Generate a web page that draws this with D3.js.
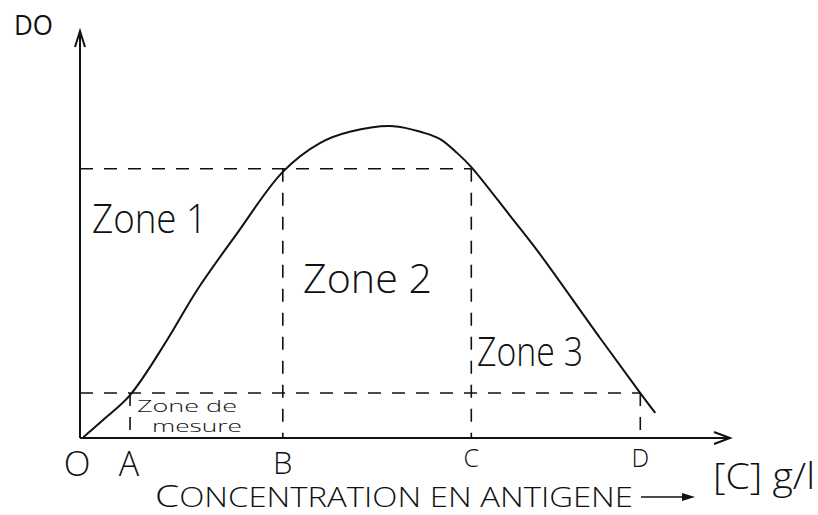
<!DOCTYPE html>
<html>
<head>
<meta charset="utf-8">
<style>
    body { margin: 0; background: #fff; }
    svg text { font-family: 'Open Sans', 'DejaVu Sans', sans-serif; font-weight: 300; fill: #111; }
</style>
</head>
<body>
<svg width="818" height="515"></svg>

<script src="https://d3js.org/d3.v7.min.js"></script>
<script>

    // concentration (arbitrary units) and optical density (DO)
    let curveX = [0.05, 0.35, 0.77, 1.34, 1.80, 2.42, 3.12, 3.69, 4.15, 4.82, 5.28, 5.54, 5.80, 6.02, 6.62, 7.03, 8.00, 8.62, 8.85]
    let curveY = [0.002, 0.044, 0.106, 0.242, 0.365, 0.506, 0.657, 0.728, 0.756, 0.770, 0.754, 0.738, 0.704, 0.669, 0.548, 0.464, 0.247, 0.111, 0.062]

    // points on the x axis
    let pointNames = ["O", "A", "B", "C", "D"]
    let pointX = [0, 0.77, 3.12, 6.02, 8.62]

    // the two DO levels of the measuring range
    let lowLevel = 0.111
    let highLevel = 0.665

    let zoneNames = ["Zone 1", "Zone 2", "Zone 3"]

    let svg = d3.select("svg")

    let x = d3.scaleLinear().domain([0, 10]).range([80, 730])
    let y = d3.scaleLinear().domain([0, 1]).range([438, 33])

    // axes, drawn by hand with arrow heads
    svg.append("line")
        .attr("x1", x(0)).attr("y1", y(0))
        .attr("x2", x(0)).attr("y2", y(1) + 2)
        .style("stroke", "#111").style("stroke-width", 2)
    svg.append("path")
        .attr("d", `M${x(0) - 5},${y(1) + 14} L${x(0)},${y(1) - 2} L${x(0) + 5},${y(1) + 14}`)
        .style("fill", "none").style("stroke", "#111").style("stroke-width", 2)

    svg.append("line")
        .attr("x1", x(0)).attr("y1", y(0))
        .attr("x2", x(10) - 2).attr("y2", y(0))
        .style("stroke", "#111").style("stroke-width", 2)
    svg.append("path")
        .attr("d", `M${x(10) - 16},${y(0) - 6} L${x(10)},${y(0)} L${x(10) - 16},${y(0) + 6}`)
        .style("fill", "none").style("stroke", "#111").style("stroke-width", 2)

    let dash = "13,11"

    // horizontal dashed levels
    svg.append("line")
        .attr("x1", x(0)).attr("y1", y(lowLevel))
        .attr("x2", x(pointX[4])).attr("y2", y(lowLevel))
        .style("stroke", "#111").style("stroke-width", 1.6).style("stroke-dasharray", dash)
    svg.append("line")
        .attr("x1", x(0)).attr("y1", y(highLevel))
        .attr("x2", x(pointX[3])).attr("y2", y(highLevel))
        .style("stroke", "#111").style("stroke-width", 1.6).style("stroke-dasharray", dash)

    // vertical dashed drops at A, B, C, D
    let dropTop = [lowLevel, highLevel, highLevel, lowLevel]
    svg.selectAll(".drop")
        .data(pointX.slice(1))
        .join("line")
        .attr("class", "drop")
        .attr("x1", d => x(d)).attr("x2", d => x(d))
        .attr("y1", (d, i) => y(dropTop[i]))
        .attr("y2", y(0))
        .style("stroke", "#111").style("stroke-width", 1.6).style("stroke-dasharray", dash)

    // the response curve
    let line = d3.line()
        .x((d, i) => x(curveX[i]))
        .y(d => y(d))
        .curve(d3.curveCatmullRom.alpha(0.5))

    svg.append("path")
        .attr("d", line(curveY))
        .style("fill", "none")
        .style("stroke", "#111")
        .style("stroke-width", 2)

    // zone labels
    let zonePos = [[92, 233, 115], [303, 293, 129], [477, 366, 106]]
    svg.selectAll(".zone")
        .data(zoneNames)
        .join("text")
        .attr("class", "zone")
        .attr("x", (d, i) => zonePos[i][0])
        .attr("y", (d, i) => zonePos[i][1])
        .attr("textLength", (d, i) => zonePos[i][2])
        .attr("lengthAdjust", "spacingAndGlyphs")
        .style("font-size", "40px")
        .text(d => d)

    svg.append("text")
        .attr("x", 137).attr("y", 412)
        .attr("textLength", 100).attr("lengthAdjust", "spacingAndGlyphs")
        .style("font-size", "16px")
        .text("Zone de")
    svg.append("text")
        .attr("x", 152).attr("y", 432)
        .attr("textLength", 90).attr("lengthAdjust", "spacingAndGlyphs")
        .style("font-size", "16px")
        .text("mesure")

    // point letters under the axis
    let letterSize = [35, 34, 31, 25, 25]
    let letterY = [476, 476, 474, 467, 467]
    svg.selectAll(".pt")
        .data(pointNames)
        .join("text")
        .attr("class", "pt")
        .attr("x", (d, i) => i == 0 ? 77 : x(pointX[i]) + (i == 1 ? -1 : 0))
        .attr("y", (d, i) => letterY[i])
        .attr("text-anchor", "middle")
        .style("font-size", (d, i) => letterSize[i] + "px")
        .text(d => d)

    // axis titles
    svg.append("text")
        .attr("x", 14).attr("y", 35)
        .attr("textLength", 39).attr("lengthAdjust", "spacingAndGlyphs")
        .style("font-size", "28px")
        .style("font-weight", 400)
        .text("DO")

    svg.append("text")
        .attr("x", 713).attr("y", 489)
        .attr("textLength", 102).attr("lengthAdjust", "spacingAndGlyphs")
        .style("font-size", "36px")
        .text("[C] g/l")

    let title = svg.append("text")
        .attr("x", 155).attr("y", 507)
        .attr("textLength", 478).attr("lengthAdjust", "spacingAndGlyphs")
        .style("font-size", "27px")
    title.append("tspan").style("font-size", "32px").text("C")
    title.append("tspan").text("ONCENTRATION EN ANTIGENE")

    svg.append("line")
        .attr("x1", 641).attr("y1", 497).attr("x2", 692).attr("y2", 497)
        .style("stroke", "#111").style("stroke-width", 1.5)
    svg.append("path")
        .attr("d", "M682,493 L695,497 L682,501 Z")
        .style("fill", "#111")

</script>
</body>
</html>
